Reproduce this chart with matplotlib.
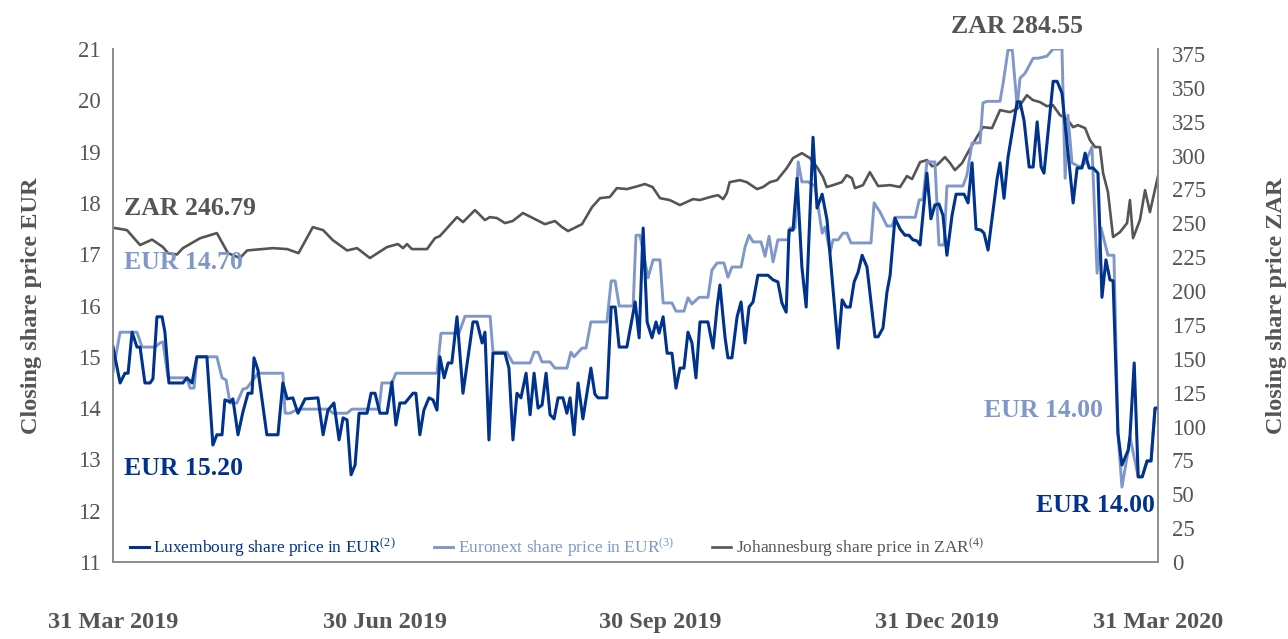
import matplotlib
matplotlib.use("Agg")
import matplotlib.pyplot as plt

plt.rcParams['font.family'] = ['Liberation Serif', 'DejaVu Serif']
plt.rcParams['mathtext.fontset'] = 'custom'
plt.rcParams['mathtext.rm'] = 'Liberation Serif'
plt.rcParams['mathtext.it'] = 'Liberation Serif:italic'

# x positions are days along the chart axis (31 Mar 2019 = 0, 31 Mar 2020 = 366)
date_ticks = [0, 95.3, 191.6, 288.6, 366]
date_labels = ["31 Mar 2019", "30 Jun 2019", "30 Sep 2019", "31 Dec 2019", "31 Mar 2020"]

# Luxembourg share price, EUR
lux_t = [0, 2.5, 4.2, 5.3, 6.7, 8.4, 9.5, 11.2, 13, 14, 15.4, 17.2, 18.2, 19.6, 24.5, 25.9,
         27.7, 29.4, 32.9, 35, 36.4, 38.2, 39.2, 41, 42, 43.8, 45.5, 47.3, 48.7, 49.4, 50.8,
         53.9, 57.8, 59.5, 61, 63, 64.8, 67.3, 71.8, 73.6, 75.3, 77.4, 79.2, 80.6, 82, 83.4,
         84.8, 86.2, 89, 90.4, 91.8, 93.5, 96, 97.7, 99.1, 100.5, 102.3, 105.1, 106.1, 107.5,
         108.9, 110.7, 112.1, 113.5, 114.5, 116, 117.4, 118.7, 120.5, 122.6, 126.1, 127.5,
         129.3, 130.3, 131.7, 133.1, 137.3, 138.7, 140.1, 141.5, 142.9, 144.7, 146.1, 147.5,
         148.9, 150.3, 151.7, 153.1, 154.5, 155.9, 157.6, 159, 160.1, 161.5, 162.9, 164.6,
         167.4, 168.8, 169.9, 173, 174.5, 175.9, 177.3, 180, 182.9, 184.3, 185.7, 187.1,
         188.8, 190.2, 191.3, 192.7, 194.1, 195.8, 197.2, 198.6, 200, 201.4, 202.8, 204.2,
         205.6, 208.4, 210.2, 211.6, 212.6, 214.4, 215.4, 216.8, 218.6, 220, 221.4, 222.8,
         224.2, 225.9, 229.4, 231.2, 232.9, 234.3, 235.8, 236.8, 238.2, 239.6, 241.3, 242.8,
         245.2, 246.6, 248.4, 250.1, 254, 255.4, 256.8, 258.2, 259.6, 261, 262.4, 264.1,
         266.9, 268, 269.7, 271.1, 272.2, 273.9, 275.7, 277.4, 278.8, 280.2, 281.6, 282.7,
         285.1, 286.5, 287.9, 289.3, 290.7, 292.1, 293.9, 295.3, 298.1, 299.5, 300.9, 302.3,
         304, 305.1, 306.5, 309.7, 310.7, 312.1, 313.5, 316.7, 317.7, 319.1, 320.9, 322.3,
         323.7, 325.1, 326.1, 329.3, 330.7, 332.4, 336.3, 337.7, 339.4, 340.5, 341.9, 343.3,
         345, 346.4, 347.8, 349.2, 350.3, 352, 353.4, 355.6, 356.2, 357.7, 359.1, 360.5,
         362.2, 363.6, 365, 366]
lux_eur = [15.20, 14.49, 14.68, 14.68, 15.48, 15.19, 15.19, 14.49, 14.49, 14.57, 15.78, 15.78,
           15.48, 14.49, 14.49, 14.59, 14.49, 15.00, 15.00, 13.28, 13.48, 13.48, 14.16, 14.12,
           14.18, 13.48, 13.92, 14.29, 14.29, 14.98, 14.74, 13.48, 13.48, 14.49, 14.18, 14.20,
           13.90, 14.18, 14.20, 13.48, 13.96, 14.10, 13.38, 13.81, 13.77, 12.70, 12.89, 13.90,
           13.90, 14.29, 14.29, 13.90, 13.90, 14.51, 13.67, 14.10, 14.10, 14.29, 14.29, 13.48,
           13.96, 14.20, 14.16, 13.96, 15.00, 14.59, 14.88, 14.88, 15.78, 14.29, 15.68, 15.68,
           15.27, 15.48, 13.38, 15.07, 15.07, 14.78, 13.38, 14.29, 14.20, 14.68, 13.87, 14.68,
           14.00, 14.06, 14.68, 13.87, 13.79, 14.20, 14.20, 13.90, 14.20, 13.48, 14.49, 13.79,
           14.78, 14.27, 14.20, 14.20, 15.97, 15.97, 15.19, 15.19, 16.07, 15.37, 17.51, 15.68,
           15.37, 15.68, 15.46, 15.78, 15.07, 15.07, 14.39, 14.78, 14.78, 15.48, 15.27, 14.59,
           15.68, 15.68, 15.17, 15.97, 16.40, 15.37, 14.98, 14.98, 15.78, 16.07, 15.27, 15.97,
           16.07, 16.59, 16.59, 16.50, 16.46, 16.05, 15.87, 17.47, 17.47, 18.48, 16.75, 15.97,
           19.28, 17.90, 18.17, 17.67, 15.17, 16.11, 15.97, 15.97, 16.46, 16.65, 16.98, 16.75,
           15.39, 15.39, 15.56, 16.26, 16.59, 17.70, 17.49, 17.37, 17.37, 17.28, 17.26, 17.18,
           18.58, 17.69, 17.96, 17.98, 17.76, 16.98, 17.76, 18.17, 18.17, 18.00, 18.78, 17.49,
           17.47, 17.41, 17.08, 18.48, 18.78, 18.09, 18.89, 19.97, 19.97, 19.61, 18.70, 18.70,
           19.58, 18.70, 18.58, 20.37, 20.37, 20.14, 18.00, 18.68, 18.68, 18.97, 18.68, 18.68,
           18.58, 16.16, 16.89, 16.50, 16.48, 13.51, 12.89, 13.18, 13.44, 14.88, 12.66, 12.66,
           12.97, 12.97, 14.00, 14.00]

# Euronext share price, EUR
enx_t = [0, 2.5, 8.4, 10.2, 14.7, 16.5, 17.5, 19.3, 25.9, 27, 28.4, 29.4, 36.4, 38.2, 39.6, 41,
         43.4, 45.5, 46.9, 50.8, 59.5, 60.3, 62, 64.8, 75.3, 77.1, 82, 83.7, 93.2, 94.2, 97.7,
         99.1, 113.5, 114.9, 121.2, 123.3, 132.1, 133.1, 138, 140.1, 146.1, 147.5, 148.9,
         150.3, 153.1, 154.8, 159, 160.4, 161.5, 164.3, 165.7, 167.4, 173, 174.5, 175.9,
         177.3, 182.2, 183.2, 184.6, 187.4, 189.2, 191.6, 192.7, 195.8, 197.2, 200, 201.4,
         202.8, 205.3, 208.4, 209.8, 211.6, 214, 215.4, 216.8, 220, 221.4, 222.8, 224.2, 227,
         228.4, 229.8, 231.2, 232.9, 236.5, 237.2, 238.9, 240, 241.3, 243.5, 245.9, 248.4,
         249.4, 251.2, 252.2, 254, 255.7, 257.1, 258.5, 265.5, 266.6, 268.7, 271.1, 272.9,
         273.9, 281, 282.4, 283.7, 285.1, 287.9, 289.3, 291.1, 292.1, 297.7, 299.1, 300.9,
         303.7, 304.7, 306.2, 310.7, 311.8, 313.5, 315, 316.7, 317.7, 319.5, 322.3, 324, 327.1,
         329.3, 332.4, 333.5, 334.5, 335.9, 338.7, 340.5, 342.9, 344.7, 346.1, 348.5, 350.6,
         352, 353.4, 355.6, 356.2, 359.1, 360.5, 362.2, 363.6, 365, 366]
enx_eur = [14.70, 15.48, 15.48, 15.19, 15.19, 15.27, 15.29, 14.59, 14.59, 14.39, 14.39, 15.00,
           15.00, 14.59, 14.55, 14.10, 14.10, 14.37, 14.39, 14.68, 14.68, 13.90, 13.90, 13.98,
           13.98, 13.90, 13.90, 13.98, 13.98, 14.49, 14.49, 14.68, 14.68, 15.46, 15.46, 15.79,
           15.79, 15.09, 15.09, 14.88, 14.88, 15.09, 15.09, 14.90, 14.90, 14.78, 14.78, 15.09,
           15.00, 15.17, 15.17, 15.68, 15.68, 16.48, 16.48, 15.99, 15.99, 17.37, 17.37, 16.54,
           16.89, 16.89, 16.05, 16.05, 15.89, 15.89, 16.15, 16.03, 16.16, 16.16, 16.69, 16.83,
           16.83, 16.55, 16.75, 16.75, 17.14, 17.37, 17.24, 17.24, 16.96, 17.35, 16.85, 17.28,
           17.28, 17.51, 17.51, 18.80, 18.41, 18.41, 18.33, 17.41, 17.53, 17.04, 17.28, 17.28,
           17.41, 17.41, 17.22, 17.22, 18.00, 17.82, 17.55, 17.55, 17.72, 17.72, 18.06, 18.06,
           18.80, 18.80, 17.18, 17.18, 18.33, 18.33, 18.54, 19.17, 19.17, 19.95, 19.98, 19.98,
           20.34, 20.98, 20.98, 19.87, 20.43, 20.53, 20.82, 20.82, 20.86, 21.00, 21.00, 18.48,
           19.71, 18.78, 18.70, 18.78, 19.09, 16.63, 17.51, 16.98, 16.98, 13.51, 12.46, 13.18,
           13.44, 12.66, 12.66, 12.97, 12.97, 14.00, 14.00]

# Johannesburg share price, ZAR
jse_t = [0, 4.9, 9.5, 13.7, 17.5, 19.3, 22.4, 24.5, 30.5, 36.4, 40.3, 44.5, 47, 56, 61, 65, 70,
         73.6, 77, 82, 85.5, 90, 96, 99.8, 101.6, 103, 104.7, 110, 112.8, 114.5, 120.5, 122.6,
         126.8, 130.3, 132, 134.5, 137.3, 140, 143.6, 148.5, 151.3, 154.8, 157.3, 159.4, 164.3,
         167.8, 170.6, 174, 176.5, 180, 183.9, 186.3, 189, 191.6, 195, 198.6, 203.2, 205.6,
         209.1, 211.9, 213.7, 215, 216, 219.6, 222, 225.6, 227.7, 230.1, 232.6, 236, 238.2,
         241.3, 244.1, 246.6, 248.7, 250, 252.2, 255.3, 257, 258.8, 259.9, 262.7, 265.1, 268,
         272.2, 275.7, 278.1, 279.9, 282.7, 285.1, 286.9, 288.6, 291.4, 293.2, 294.9, 297.4,
         299.5, 302.6, 304.7, 307.9, 310.7, 314.2, 317, 320.1, 322.2, 324.7, 327.1, 329.2,
         331.7, 334.2, 336.3, 338, 340.5, 342.2, 344, 345.7, 346.8, 348.5, 350.3, 352.7, 355.2,
         356.2, 357.3, 359.7, 361.5, 363.2, 366]
jse_zar = [246.79, 245.0, 234.0, 238.0, 232.5, 228.0, 227.0, 231.7, 239.0, 242.8, 228.0, 224.4,
           230.0, 231.7, 231.0, 228.0, 247.2, 245.0, 237.6, 230.0, 231.7, 224.4, 232.5, 234.7,
           231.7, 234.7, 231.0, 231.0, 239.1, 240.6, 254.6, 250.9, 259.8, 252.4, 254.6, 253.9,
           250.2, 251.7, 257.6, 252.4, 249.4, 251.7, 247.2, 244.3, 249.4, 262.0, 268.6, 269.4,
           276.0, 275.3, 277.5, 279.0, 276.8, 268.6, 267.2, 263.5, 267.9, 267.2, 269.4, 270.8,
           267.9, 272.3, 280.4, 281.9, 280.4, 275.3, 276.8, 280.4, 281.9, 290.8, 298.2, 301.8,
           298.2, 291.5, 284.1, 276.8, 278.2, 280.4, 285.6, 283.4, 276.0, 278.2, 287.8, 277.5,
           278.2, 276.8, 284.9, 282.7, 295.2, 296.7, 292.2, 293.0, 298.9, 294.5, 289.3, 294.5,
           302.6, 313.7, 321.0, 320.3, 333.6, 332.1, 335.0, 344.6, 341.0, 339.5, 336.5, 337.3,
           329.9, 326.9, 321.0, 322.5, 320.3, 311.4, 306.3, 306.3, 287.1, 273.1, 239.9, 243.5,
           250.2, 267.2, 239.1, 252.4, 274.5, 258.3, 284.55]

DARK = "#00338d"
LIGHT = "#7f98c9"
GREY = "#555555"
AXIS = "#8c8c8c"

fig = plt.figure(figsize=(12.88, 6.39), dpi=100)
ax = fig.add_axes([0.0877, 0.1205, 0.8113, 0.8028])
ax2 = ax.twinx()
ax.set_zorder(ax2.get_zorder() + 1)
ax.patch.set_visible(False)

g, = ax2.plot(jse_t, jse_zar, color=GREY, lw=1.9,
              label="Johannesburg share price in ZAR$^{(4)}$")
l2, = ax.plot(enx_t, enx_eur, color=LIGHT, lw=2.1,
              label="Euronext share price in EUR$^{(3)}$")
l1, = ax.plot(lux_t, lux_eur, color=DARK, lw=2.2,
              label="Luxembourg share price in EUR$^{(2)}$")

ax.set_xlim(0, 366)
ax.set_ylim(11, 21)
ax2.set_ylim(0, 378.7)
ax.set_yticks(range(11, 22))
ax2.set_yticks(range(0, 376, 25))

for a in (ax, ax2):
    a.spines['top'].set_visible(False)
    for s in ('left', 'right', 'bottom'):
        a.spines[s].set_color(AXIS)
        a.spines[s].set_linewidth(1.2)
    a.tick_params(axis='y', length=0, labelsize=16.5, labelcolor=GREY)

ax.tick_params(axis='y', pad=9)
ax2.tick_params(axis='y', pad=10)

ax.set_xticks(date_ticks)
ax.set_xticklabels(date_labels, fontsize=17.5, fontweight='bold', color=GREY)
ax.tick_params(axis='x', length=0, pad=36)
ax.set_xticks(date_ticks[1:4], minor=True)
ax.tick_params(axis='x', which='minor', length=21, width=1.2, color=AXIS)

ax.set_ylabel("Closing share price EUR", fontsize=17.5, fontweight='bold', color=GREY, labelpad=26)
ax2.set_ylabel("Closing share price ZAR", fontsize=17.5, fontweight='bold', color=GREY,
               rotation=90, labelpad=43)

ax.text(0.011, 0.69, "ZAR 246.79", transform=ax.transAxes, color=GREY,
        fontsize=18.5, fontweight='bold', va='center', ha='left')
ax.text(0.011, 0.583, "EUR 14.70", transform=ax.transAxes, color=LIGHT,
        fontsize=18.5, fontweight='bold', va='center', ha='left')
ax.text(0.011, 0.183, "EUR 15.20", transform=ax.transAxes, color=DARK,
        fontsize=18.5, fontweight='bold', va='center', ha='left')
ax.text(0.865, 1.043, "ZAR 284.55", transform=ax.transAxes, color=GREY,
        fontsize=18.5, fontweight='bold', va='center', ha='center')
ax.text(0.834, 0.296, "EUR 14.00", transform=ax.transAxes, color=LIGHT,
        fontsize=18.5, fontweight='bold', va='center', ha='left')
ax.text(0.997, 0.111, "EUR 14.00", transform=ax.transAxes, color=DARK,
        fontsize=18.5, fontweight='bold', va='center', ha='right')

ax.legend(handles=[l1, l2, g], loc='lower left', bbox_to_anchor=(0.003, -0.022),
          ncol=3, frameon=False, fontsize=12.5, handlelength=1.1, handletextpad=0.25,
          columnspacing=2.2, labelcolor='linecolor', borderpad=0.3)

fig.savefig("out.png", dpi=100)
